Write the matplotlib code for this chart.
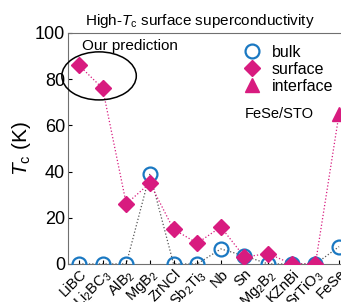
import numpy as np
import matplotlib
matplotlib.use("Agg")
import matplotlib.pyplot as plt
from matplotlib.patches import Ellipse
from matplotlib.lines import Line2D

plt.rcParams['font.family'] = ['Liberation Sans', 'DejaVu Sans']
plt.rcParams['mathtext.fontset'] = 'custom'
plt.rcParams['mathtext.rm'] = 'Liberation Sans'
plt.rcParams['mathtext.it'] = 'Liberation Sans:italic'

# data
materials = ['LiBC', 'Li$_2$BC$_3$', 'AlB$_2$', 'MgB$_2$', 'ZrNCl', 'Sb$_2$Ti$_3$',
             'Nb', 'Sn', 'Mg$_2$B$_2$', 'KZnBi', 'SrTiO$_3$', 'FeSe']
tc_bulk = [0, 0, 0, 39, 0, 0, 6.5, 3.5, 0, 0, 0, 7.5]
tc_surface = [86, 76, 26, 35, 15, 9, 16, 3, 4.5, 0, 0]
tc_interface = [65]  # FeSe/STO

blue = '#1a78c2'
pink = '#d81b7f'

x = np.arange(len(materials))

fig = plt.figure(figsize=(3.41, 3.02), dpi=100)
ax = fig.add_axes([0.199, 0.126, 0.83, 0.765])

# dotted guide lines
ax.plot(x, tc_bulk, ls=':', color='#555555', lw=0.9, zorder=1)
ax.plot(x, tc_surface + tc_interface, ls=':', color=pink, lw=0.9, zorder=1)

ax.plot(x, tc_bulk, 'o', ms=10, mfc='none', mec=blue, mew=1.6, ls='none', zorder=3)
ax.plot(x[:len(tc_surface)], tc_surface, 'D', ms=8.5, color=pink, ls='none', zorder=4)
ax.plot(x[-1:], tc_interface, '^', ms=10, color=pink, ls='none', zorder=4)

ax.set_xlim(-0.47, 11.5)
ax.set_ylim(0, 100)
ax.set_yticks([0, 20, 40, 60, 80, 100])
ax.set_xticks(x)
ax.set_xticklabels(materials, rotation=45, ha='right', va='top',
                   rotation_mode='anchor', fontsize=10.5)
ax.tick_params(axis='y', direction='in', labelsize=13, length=3, pad=2)
ax.tick_params(axis='x', direction='in', length=3, pad=2)
for s in ax.spines.values():
    s.set_color('#707070')
ax.set_ylabel('$T_{\\rm c}$ (K)', fontsize=15, labelpad=1)

ax.add_patch(Ellipse((0.85, 81.4), 3.15, 20.8, fill=False, ec='black', lw=1.1, zorder=5,
                     clip_on=False))
ax.text(0.05, 0.945, 'Our prediction', transform=ax.transAxes, fontsize=11,
        va='center', ha='left')
ax.text(7.0, 65, 'FeSe/STO', fontsize=10.5, va='center', ha='left')

handles = [
    Line2D([], [], marker='o', ms=10, mfc='none', mec=blue, mew=1.6, ls='none'),
    Line2D([], [], marker='D', ms=8.5, color=pink, ls='none'),
    Line2D([], [], marker='^', ms=10, color=pink, ls='none'),
]
fig.legend(handles, ['bulk', 'surface', 'interface'], loc='upper left',
           bbox_to_anchor=(236 / 341, 1 - 37 / 302), frameon=False, fontsize=11.5,
           handlelength=1.0, handletextpad=0.75, labelspacing=0.12, borderpad=0)

fig.text(200 / 341, 1 - 21 / 302, 'High-$T_{\\rm c}$ surface superconductivity',
         fontsize=11, ha='center', va='center')

fig.savefig('out.png', dpi=100)
